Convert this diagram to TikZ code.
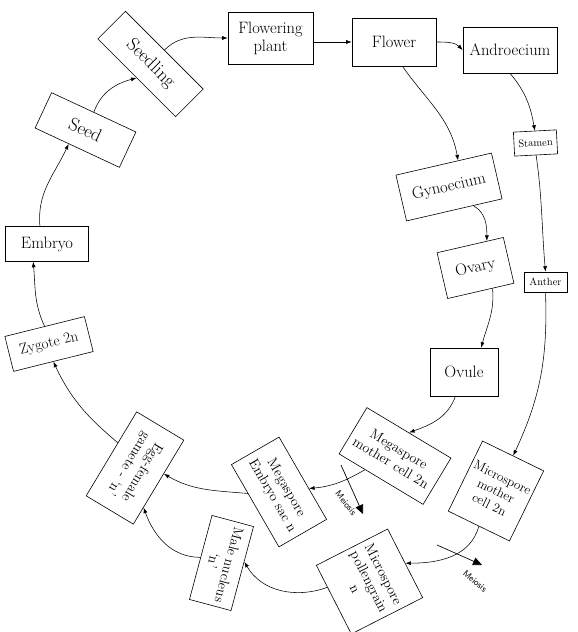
\documentclass[tikz,border=0pt]{standalone}
\usepackage{graphicx}
\usetikzlibrary{calc,arrows.meta}
\newcommand\fbig{\fontsize{16.5}{18}\selectfont}
\newcommand\fzyg{\fontsize{15}{17}\selectfont}
\newcommand\fhuge{\fontsize{18.5}{20}\selectfont}
\newcommand\fmid{\fontsize{14}{16}\selectfont}
\newcommand\fsm{\fontsize{13}{15}\selectfont}
\newcommand\ftiny{\fontsize{10.5}{12}\selectfont}
\newcommand\fmei{\sffamily\fontsize{9}{10}\selectfont}
\tikzset{
  box/.style={draw, line width=0.6pt, inner sep=2pt, align=center},
  arr/.style={line width=0.55pt, -{Latex[length=5.5pt,width=4pt]}},
  meiarr/.style={line width=0.7pt, -{Triangle[length=9pt,width=8pt]}},
  meitxt/.style={font=\fmei, inner sep=0pt}
}
\begin{document}
\begin{tikzpicture}[x=1pt,y=1pt]
\useasboundingbox (0,0) rectangle (578,632);
% nodes
\node[box,font=\fbig,minimum width=85pt,minimum height=52pt] (flp) at (270.5,594) {Flowering\\plant};
\node[box,font=\fbig,minimum width=84pt,minimum height=48pt] (flower) at (394,590) {Flower};
\node[box,font=\fbig,minimum width=94pt,minimum height=46pt] (andro) at (510,582) {Androecium};
\node[box,font=\ftiny,minimum width=43pt,minimum height=24pt,rotate=3] (stamen) at (535.5,489) {Stamen};
\node[box,font=\fbig,minimum width=98pt,minimum height=47pt,rotate=13] (gyn) at (449,445) {Gynoecium};
\node[box,font=\ftiny,minimum width=43pt,minimum height=20pt] (anther) at (545.5,350) {Anther};
\node[box,font=\fbig,minimum width=68pt,minimum height=47pt,rotate=13] (ovary) at (475.5,364) {Ovary};
\node[box,font=\fbig,minimum width=68pt,minimum height=48pt] (ovule) at (464,260) {Ovule};
\node[box,font=\fmid,minimum width=98pt,minimum height=54pt,rotate=-31] (mmc) at (395,176) {Megaspore\\mother cell 2n};
\node[box,font=\fsm,minimum width=68pt,minimum height=78pt,rotate=-26] (micmc) at (496,141) {Microspore\\mother\\cell 2n};
\node[box,font=\fmid,minimum width=77pt,minimum height=80pt,rotate=-63] (mpg) at (369.5,50.5) {Microspore\\pollengrain\\n};
\node[box,font=\fmid,minimum width=95pt,minimum height=55pt,rotate=-60] (mesac) at (279,140) {Megaspore\\Embryo sac n};
\node[box,font=\fmid,minimum width=98pt,minimum height=55pt,rotate=-121] (egg) at (135,164) {Egg-female\\gamete - `n'};
\node[box,font=\fmid,minimum width=87pt,minimum height=43pt,rotate=-105] (male) at (221.5,69) {Male nucleus\\`n'};
\node[box,font=\fzyg,minimum width=82pt,minimum height=36pt,rotate=14] (zyg) at (49,288) {Zygote 2n};
\node[box,font=\fbig,minimum width=83pt,minimum height=35pt] (embryo) at (47,388) {Embryo};
\node[box,font=\fhuge,minimum width=93pt,minimum height=39pt,rotate=-25] (seed) at (85.5,502) {Seed};
\node[box,font=\fhuge,minimum width=110pt,minimum height=39pt,rotate=-45] (seedling) at (150.5,568) {Seedling};
% connectors
\draw[arr] (seedling.north) to[out=45,in=180] (flp.west);
\draw[arr] (flp.east |- flower) -- (flower.west);
\draw[arr] (flower.east) to[out=0,in=135] (andro.west);
\draw[arr] (andro.south) to[out=-50,in=100] (stamen.north);
\draw[arr] ($(flower.south)!0.2!(flower.south east)$) to[out=-55,in=100] ($(gyn.north)!0.3!(gyn.north east)$);
\draw[arr] (stamen.south) to[out=-82,in=95] (anther.north);
\draw[arr] ($(gyn.south)!0.4!(gyn.south east)$) to[out=-30,in=90] ($(ovary.north)!0.5!(ovary.north east)$);
\draw[arr] ($(ovary.south)!0.35!(ovary.south east)$) to[out=-85,in=75] ($(ovule.north)!0.5!(ovule.north east)$);
\draw[arr] (anther.south) to[out=-88,in=65] (micmc.north);
\draw[arr] ($(ovule.south)!0.25!(ovule.south west)$) to[out=-110,in=20] (mmc.north);
\draw[arr] ($(mmc.south)!0.38!(mmc.south west)$) to[out=-150,in=5] ($(mesac.north)!0.25!(mesac.north east)$);
\draw[arr] (micmc.south) to[out=-105,in=0] (mpg.north);
\draw[arr] ($(mesac.south)!0.3!(mesac.south west)$) to[out=175,in=-30] ($(egg.north)!0.2!(egg.north west)$);
\draw[arr] (male.south) to[out=180,in=-70] ($(egg.north)!0.6!(egg.north east)$);
\draw[arr] ($(mpg.south)!0.36!(mpg.south west)$) to[out=-160,in=-60] ($(male.north)!0.16!(male.north west)$);
\draw[arr] ($(egg.south)!0.26!(egg.south west)$) to[out=140,in=-65] (zyg.south);
\draw[arr] (zyg.north) to[out=115,in=-85] ($(embryo.south)!0.33!(embryo.south west)$);
\draw[arr] ($(embryo.north)!0.17!(embryo.north west)$) to[out=95,in=-115] ($(seed.south)!0.2!(seed.south west)$);
\draw[arr] (seed.north) to[out=70,in=-165] (seedling.south);
% meiosis
\coordinate (m1s) at (341,167);
\coordinate (m1e) at (363,118);
\draw[meiarr] (m1s) -- (m1e);
\node[meitxt,rotate=-52] (mei1) at (346,129) {Meiosis};
\coordinate (m2s) at (437,87);
\coordinate (m2e) at (482,67);
\draw[meiarr] (m2s) -- (m2e);
\node[meitxt,rotate=-41] (mei2) at (475,51) {Meiosis};
\end{tikzpicture}
\end{document}
